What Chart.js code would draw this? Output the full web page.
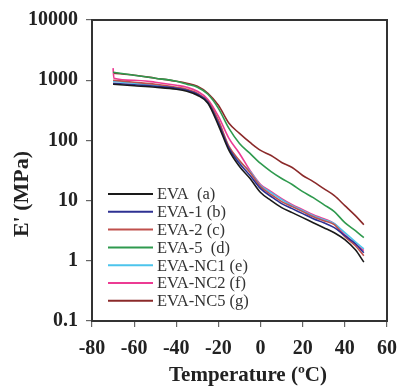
<!DOCTYPE html>
<html><head><meta charset="utf-8">
<script src="https://cdn.jsdelivr.net/npm/chart.js@4/dist/chart.umd.min.js"></script>
<style>html,body{margin:0;padding:0;background:#fff;overflow:hidden;}</style>
</head><body>
<canvas id="c" width="398" height="386" style="width:398px;height:386px;display:block"></canvas>
<script>
// Temperatures (ºC)
const temps    = [-70,-60,-50,-40,-35,-30,-25,-20,-15,-10,-5,0,5,10,15,20,25,30,35,40,45,49];
const tempsNC2 = [-70,-69.6,-60,-50,-40,-35,-30,-25,-20,-15,-10,-5,0,5,10,15,20,25,30,35,40,45,49];
// Storage modulus E' (MPa)
const eva   = [858,810,764,708,656,562,414,178,68.1,36.9,23.3,13.6,10,7.64,6.31,5.21,4.30,3.55,2.93,2.24,1.52,0.95];
const eva1  = [891,840,794,736,681,584,430,192,73.6,41.4,26.1,15.8,11.7,8.91,7.36,6.07,5.01,4.30,3.55,2.61,1.92,1.36];
const eva2  = [1000,926,858,764,708,607,446,215,79.4,46.4,29.3,17.1,12.6,9.62,7.94,6.56,5.41,4.64,3.98,2.51,1.78,1.21];
const eva5  = [1359,1212,1080,962,858,764,584,341,158,89.1,60.7,41.4,30.4,23.3,18.5,14.1,11.2,8.58,6.56,4.30,3.16,2.42];
const evaNC1= [962,891,825,736,681,584,430,207,76.6,44.7,30.4,17.8,13.6,10.4,8.25,6.81,5.62,4.82,4.14,2.93,2.07,1.58];
const evaNC2= [1585,1080,1000,926,825,764,656,479,251,108,60.7,31.6,18.5,14.1,10.8,8.58,7.08,5.84,5.01,4.14,2.71,1.92,1.47];
const evaNC5= [1309,1212,1080,962,891,794,607,383,192,131,92.6,68.1,56.2,43.0,35.5,26.1,20.7,15.8,12.1,8.25,5.62,3.98];
const seriesLabels = ['EVA  (a)','EVA-1 (b)','EVA-2 (c)','EVA-5  (d)','EVA-NC1 (e)','EVA-NC2 (f)','EVA-NC5 (g)'];
const seriesColors = ['#1a1a1a','#2e3192','#c0504d','#2f9a4e','#4cc4ec','#ec3b93','#8b2a2a'];
const yTickValues = [0.1,1,10,100,1000,10000];
const xTickValues = [-80,-60,-40,-20,0,20,40,60];
const xTitle = 'Temperature (ºC)';
const yTitle = "E' (MPa)";

const pts = (xs, ys) => xs.map((x, i) => ({x, y: ys[i]}));
const seriesData = [pts(temps,eva), pts(temps,eva1), pts(temps,eva2), pts(temps,eva5),
                    pts(temps,evaNC1), pts(tempsNC2,evaNC2), pts(temps,evaNC5)];

const datasets = seriesData.map((d, i) => ({
  label: seriesLabels[i], data: d, borderColor: seriesColors[i], backgroundColor: seriesColors[i],
  borderWidth: 1.6, pointRadius: 0, fill: false, cubicInterpolationMode: 'monotone'
}));

const framePlugin = {
  id: 'frame',
  afterDraw(chart) {
    const {ctx, chartArea: a} = chart;
    ctx.save();
    ctx.strokeStyle = '#333'; ctx.lineWidth = 2;
    ctx.strokeRect(a.left, a.top, a.right - a.left, a.bottom - a.top);
    // legend
    ctx.font = '16.5px "Liberation Serif", "Times New Roman", serif';
    ctx.textBaseline = 'middle'; ctx.textAlign = 'left';
    chart.data.datasets.forEach((ds, i) => {
      const y = 194 + i * 17.8;
      ctx.strokeStyle = ds.borderColor; ctx.lineWidth = 2;
      ctx.beginPath(); ctx.moveTo(108, y); ctx.lineTo(153, y); ctx.stroke();
      ctx.fillStyle = '#333';
      ctx.fillText(ds.label, 157, y + 1);
    });
    // axis titles
    ctx.fillStyle = '#222';
    ctx.font = 'bold 21px "Liberation Serif", "Times New Roman", serif';
    ctx.textAlign = 'center';
    ctx.fillText(xTitle, 248, 376);
    ctx.save();
    ctx.translate(22, 194);
    ctx.rotate(-Math.PI / 2);
    ctx.font = 'bold 22px "Liberation Serif", "Times New Roman", serif';
    ctx.fillText(yTitle, 0, 0);
    ctx.restore();
    ctx.restore();
  }
};

const tickFont = {family: '"Liberation Serif", "Times New Roman", serif', size: 20, weight: 'bold'};

new Chart(document.getElementById('c'), {
  type: 'line',
  data: {datasets},
  options: {
    responsive: false, animation: false, devicePixelRatio: 1,
    layout: {padding: {top: 20, right: 11, left: 0, bottom: 0}},
    plugins: {legend: {display: false}, tooltip: {enabled: false}},
    scales: {
      x: {
        type: 'linear', min: -80, max: 60,
        afterBuildTicks: s => { s.ticks = xTickValues.map(v => ({value: v})); },
        afterFit: s => { s.height = 65; s.paddingRight = 0; s.paddingLeft = 0; },
        ticks: {font: tickFont, color: '#222', padding: 10, maxRotation: 0, autoSkip: false},
        grid: {drawOnChartArea: false, drawTicks: true, tickLength: 6, color: '#666', lineWidth: 1.2},
        border: {display: true, color: '#333', width: 2}
      },
      y: {
        type: 'logarithmic', min: 0.1, max: 10000,
        afterBuildTicks: s => { s.ticks = yTickValues.map(v => ({value: v})); },
        afterFit: s => { s.width = 92; s.paddingTop = 0; s.paddingBottom = 0; },
        ticks: {font: tickFont, color: '#222', padding: 8, autoSkip: false,
                callback: v => String(v)},
        grid: {drawOnChartArea: false, drawTicks: true, tickLength: 6, color: '#666', lineWidth: 1.2},
        border: {display: true, color: '#333', width: 2}
      }
    }
  },
  plugins: [framePlugin]
});
</script>
</body></html>
